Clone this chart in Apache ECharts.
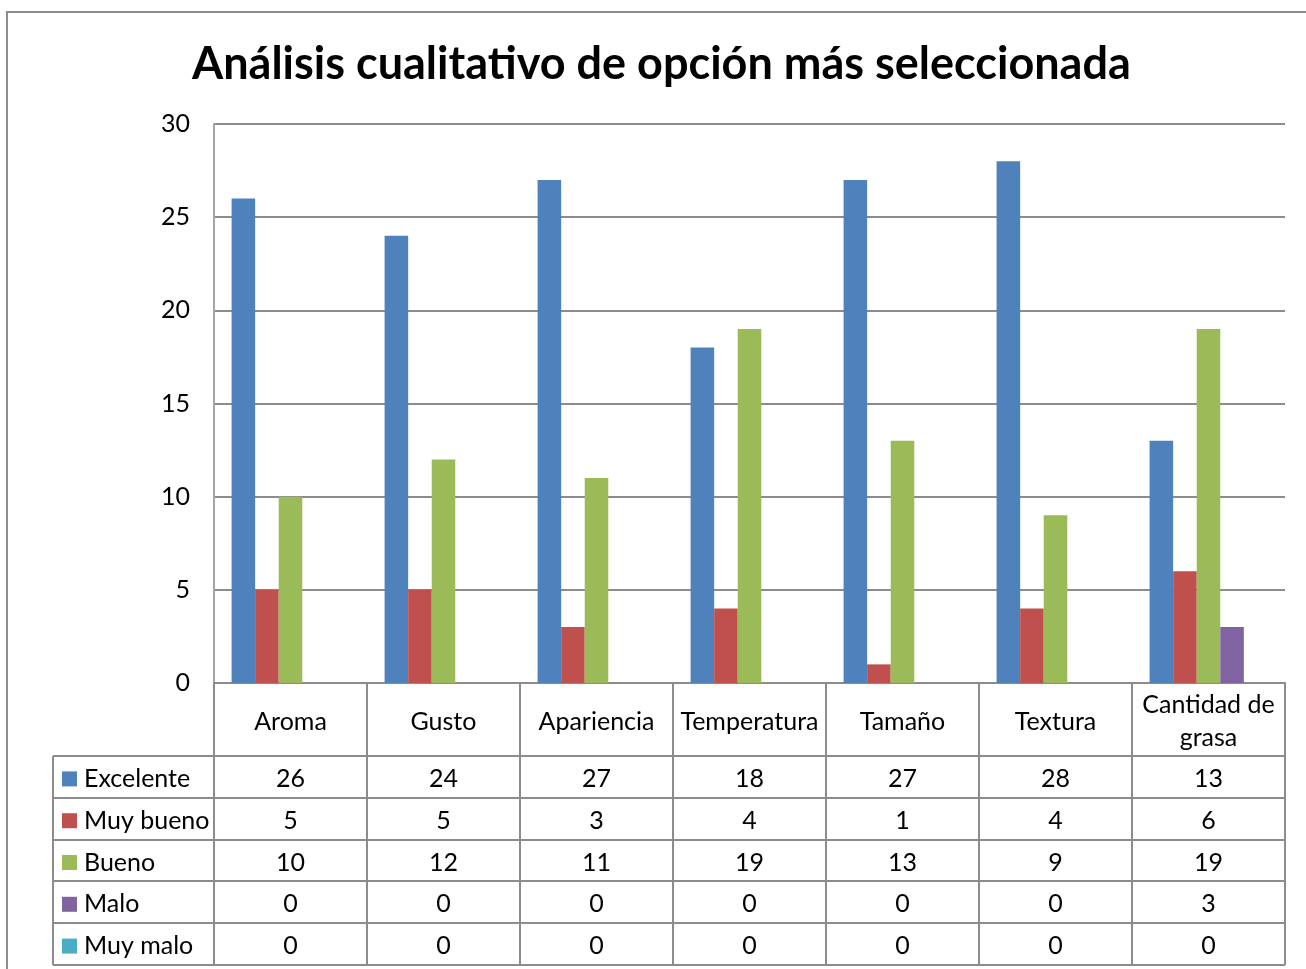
<!DOCTYPE html>
<html>
<head>
<meta charset="utf-8">
<script src="https://cdn.jsdelivr.net/npm/echarts@6/dist/echarts.min.js"></script>
<style>
html, body { margin: 0; padding: 0; background: #fff; }
#chart { width: 1306px; height: 969px; }
</style>
</head>
<body>
<div id="chart"></div>
<script>
// datos
const categories = ['Aroma', 'Gusto', 'Apariencia', 'Temperatura', 'Tamaño', 'Textura', 'Cantidad de\ngrasa'];
const seriesNames = ['Excelente', 'Muy bueno', 'Bueno', 'Malo', 'Muy malo'];
const excelente = [26, 24, 27, 18, 27, 28, 13];
const muyBueno = [5, 5, 3, 4, 1, 4, 6];
const bueno = [10, 12, 11, 19, 13, 9, 19];
const malo = [0, 0, 0, 0, 0, 0, 3];
const muyMalo = [0, 0, 0, 0, 0, 0, 0];
const seriesData = [excelente, muyBueno, bueno, malo, muyMalo];
const colors = ['#4F81BD', '#C0504D', '#9BBB59', '#8064A2', '#4BACC6'];

// layout
const FONT = 'Lato';
const FS = 25;
const W = 1306, H = 969;
const gridLeft = 214, gridRight = 21, gridTop = 124, gridBottom = 286;
const headH = 73, rowH = 41.8, tableLeft = 53;
const lineColor = '#8c8c8c';

const chart = echarts.init(document.getElementById('chart'));

const axisY0 = H - gridBottom;
const tableRight = W - gridRight;

// filas de la tabla: un eje por serie
const rowAxes = seriesData.map((vals, i) => ({
  type: 'category',
  data: categories,
  position: 'bottom',
  offset: headH + rowH * i,
  axisLine: { show: false },
  axisTick: { show: false },
  axisLabel: {
    interval: 0,
    margin: rowH / 2 + 2,
    verticalAlign: 'middle',
    fontFamily: FONT,
    fontSize: FS,
    color: '#000',
    formatter: (v, idx) => String(vals[idx])
  }
}));

// lineas de la tabla
const tableLines = [];
for (let i = 0; i <= seriesNames.length; i++) {
  const y = Math.round(axisY0 + headH + rowH * i);
  tableLines.push({
    type: 'line',
    shape: { x1: tableLeft, y1: y, x2: tableRight, y2: y },
    style: { stroke: lineColor, lineWidth: 2 }
  });
}
tableLines.push({
  type: 'line',
  shape: { x1: tableLeft, y1: axisY0 + headH, x2: tableLeft, y2: Math.round(axisY0 + headH + rowH * seriesNames.length) },
  style: { stroke: lineColor, lineWidth: 2 }
});

const option = {
  animation: false,
  color: colors,
  title: {
    text: 'Análisis cualitativo de opción más seleccionada',
    left: 187,
    top: 37,
    textStyle: { fontFamily: FONT, fontSize: 45, fontWeight: 'bold', color: '#000' }
  },
  legend: {
    orient: 'vertical',
    left: 62,
    top: axisY0 + headH + 2,
    padding: 0,
    itemGap: 0,
    itemWidth: 15,
    itemHeight: 15,
    icon: 'rect',
    selectedMode: false,
    data: seriesNames,
    textStyle: { fontFamily: FONT, fontSize: FS, color: '#000', lineHeight: rowH, padding: [0, 0, 0, 2] }
  },
  grid: { left: gridLeft, right: gridRight, top: gridTop, bottom: gridBottom, containLabel: false },
  xAxis: [{
    type: 'category',
    data: categories,
    axisLine: { lineStyle: { color: lineColor, width: 2 } },
    axisTick: {
      show: true,
      interval: 0,
      length: headH + rowH * seriesNames.length,
      lineStyle: { color: lineColor, width: 2 }
    },
    axisLabel: {
      interval: 0,
      margin: headH / 2 + 2,
      verticalAlign: 'middle',
      fontFamily: FONT,
      fontSize: FS,
      lineHeight: 33,
      color: '#000'
    }
  }].concat(rowAxes),
  yAxis: {
    type: 'value',
    min: 0,
    max: 30,
    interval: 5,
    axisLine: { show: true, lineStyle: { color: '#a6a6a6', width: 2 } },
    axisTick: { show: false },
    axisLabel: { margin: 24, fontFamily: FONT, fontSize: FS, color: '#000' },
    splitLine: { lineStyle: { color: lineColor, width: 2 } }
  },
  graphic: [{
    type: 'rect',
    shape: { x: 7, y: 12, width: W, height: H },
    style: { fill: 'none', stroke: '#8c8c8c', lineWidth: 2 },
    silent: true
  }].concat(tableLines),
  series: seriesNames.map((name, i) => ({
    name: name,
    type: 'bar',
    data: seriesData[i],
    barGap: 0,
    barCategoryGap: '23%'
  }))
};

chart.setOption(option);
</script>
</body>
</html>
